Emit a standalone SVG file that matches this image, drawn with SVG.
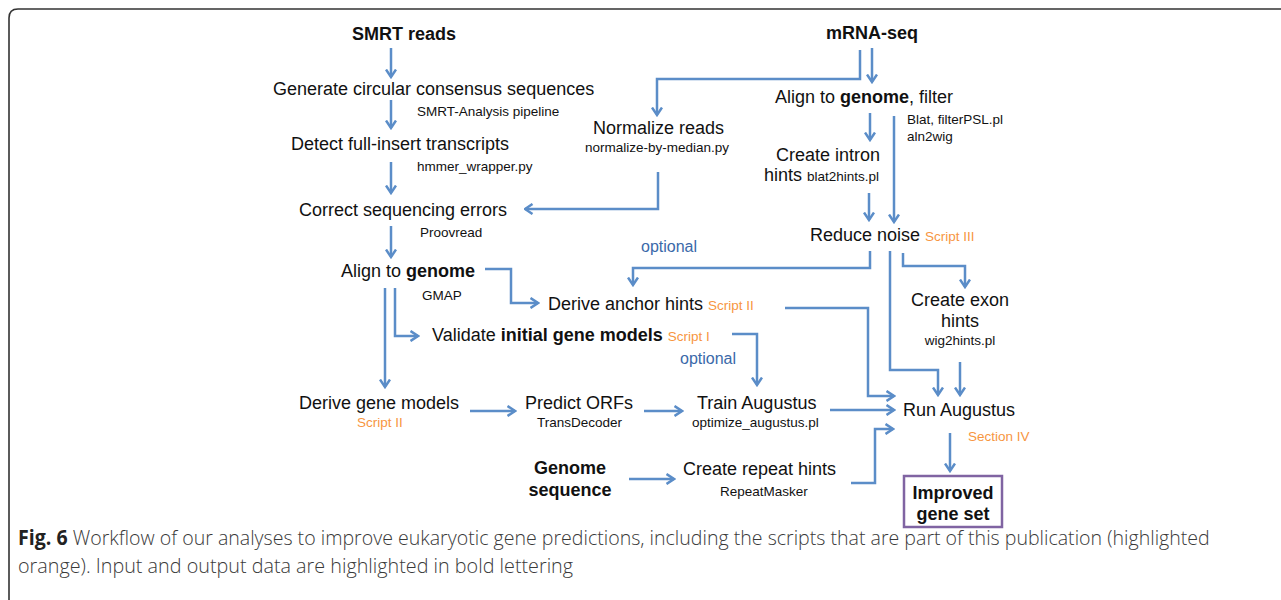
<svg xmlns="http://www.w3.org/2000/svg" width="1281" height="600" viewBox="0 0 1281 600">
  <style>
    .t { font-family: "Liberation Sans", Arial, sans-serif; font-size: 18px; fill: #111; }
    .b { font-weight: bold; }
    .s { font-family: "Liberation Sans", Arial, sans-serif; font-size: 13.5px; fill: #111; }
    .o { font-family: "Liberation Sans", Arial, sans-serif; font-size: 13.5px; fill: #F7963F; }
    .opt { font-family: "Liberation Sans", Arial, sans-serif; font-size: 16px; fill: #3B69A9; }
    .c { fill: none; stroke: #5B8DC8; stroke-width: 2.5; stroke-linejoin: miter; marker-end: url(#arr); }
    .cap { font-family: "Open Sans", "Liberation Sans", sans-serif; font-size: 21px; fill: #3a3a3a; font-weight: 300; }
  </style>
  <defs>
    <marker id="arr" markerUnits="userSpaceOnUse" viewBox="0 0 10 12" markerWidth="10" markerHeight="12" refX="8.5" refY="6" orient="auto">
      <path d="M1,1 L8.5,6 L1,11" fill="none" stroke="#5B8DC8" stroke-width="2.5"/>
    </marker>
  </defs>
  <rect width="1281" height="600" fill="#fff"/>
  <!-- outer frame -->
  <path d="M9,600 V18 Q9,9 18,9 H1281" fill="none" stroke="#333" stroke-width="1.6"/>

  <!-- connectors -->
  <g id="connectors">
    <path class="c" d="M391,48 V77"/>
    <path class="c" d="M391,100 V128"/>
    <path class="c" d="M391,162 V193"/>
    <path class="c" d="M391,226 V257"/>
    <path class="c" d="M385,288 V387"/>
    <path class="c" d="M395,288 V336 H418"/>
    <path class="c" d="M485,269 H511 V303 H538"/>
    <path class="c" d="M470,411 H515"/>
    <path class="c" d="M644,411 H682"/>
    <path class="c" d="M830,410 H894"/>
    <path class="c" d="M732,334 H757 V385"/>
    <path class="c" d="M785,308 H868 V396 H894"/>
    <path class="c" d="M860,50 V79 H657 V115"/>
    <path class="c" d="M872,48 V82"/>
    <path class="c" d="M658,172 V209 H525"/>
    <path class="c" d="M870,113 V140"/>
    <path class="c" d="M894,116 V222"/>
    <path class="c" d="M869,193 V220"/>
    <path class="c" d="M870,251 V268 H633 V285"/>
    <path class="c" d="M890,251 V370 H938 V395"/>
    <path class="c" d="M903,253 V266 H965 V287"/>
    <path class="c" d="M960,362 V395"/>
    <path class="c" d="M950,433 V471"/>
    <path class="c" d="M629,479 H674"/>
    <path class="c" d="M851,483 H875 V429 H893"/>
  </g>

  <!-- long-read branch -->
  <g id="smrt-reads"><text class="t b" x="352" y="40">SMRT reads</text></g>
  <g id="ccs">
    <text class="t" x="273" y="95">Generate circular consensus sequences</text>
    <text class="s" x="417" y="116">SMRT-Analysis pipeline</text>
  </g>
  <g id="full-insert">
    <text class="t" x="291" y="150">Detect full-insert transcripts</text>
    <text class="s" x="417" y="171">hmmer_wrapper.py</text>
  </g>
  <g id="correct">
    <text class="t" x="299" y="216">Correct sequencing errors</text>
    <text class="s" x="420" y="237">Proovread</text>
  </g>
  <g id="align-long">
    <text class="t" x="341" y="277">Align to <tspan class="b">genome</tspan></text>
    <text class="s" x="422" y="300">GMAP</text>
  </g>
  <g id="anchor-hints">
    <text class="t" x="548" y="310">Derive anchor hints <tspan class="o">Script II</tspan></text>
  </g>
  <g id="validate">
    <text class="t" x="432" y="341">Validate <tspan class="b">initial gene models</tspan> <tspan class="o">Script I</tspan></text>
  </g>
  <g id="gene-models">
    <text class="t" x="299" y="409">Derive gene models</text>
    <text class="o" x="357" y="427">Script II</text>
  </g>
  <g id="orfs">
    <text class="t" x="525" y="409">Predict ORFs</text>
    <text class="s" x="537" y="427">TransDecoder</text>
  </g>
  <g id="train">
    <text class="t" x="697" y="409">Train Augustus</text>
    <text class="s" x="692" y="427">optimize_augustus.pl</text>
  </g>
  <g id="labels-optional">
    <text class="opt" x="641" y="252">optional</text>
    <text class="opt" x="680" y="364">optional</text>
  </g>

  <!-- short-read branch -->
  <g id="mrna-seq"><text class="t b" x="826" y="39">mRNA-seq</text></g>
  <g id="normalize">
    <text class="t" x="593" y="134">Normalize reads</text>
    <text class="s" x="585" y="152">normalize-by-median.py</text>
  </g>
  <g id="align-short">
    <text class="t" x="775" y="103">Align to <tspan class="b">genome</tspan>, filter</text>
    <text class="s" x="907" y="124">Blat, filterPSL.pl</text>
    <text class="s" x="907" y="141">aln2wig</text>
  </g>
  <g id="intron-hints">
    <text class="t" x="776" y="161">Create intron</text>
    <text class="t" x="764" y="181">hints <tspan class="s">blat2hints.pl</tspan></text>
  </g>
  <g id="reduce-noise">
    <text class="t" x="810" y="241">Reduce noise <tspan class="o">Script III</tspan></text>
  </g>
  <g id="exon-hints">
    <text class="t" x="960" y="306" text-anchor="middle">Create exon</text>
    <text class="t" x="960" y="327" text-anchor="middle">hints</text>
    <text class="s" x="960" y="345" text-anchor="middle">wig2hints.pl</text>
  </g>

  <!-- genome branch and output -->
  <g id="genome-seq">
    <text class="t b" x="570" y="474" text-anchor="middle">Genome</text>
    <text class="t b" x="570" y="496" text-anchor="middle">sequence</text>
  </g>
  <g id="repeat-hints">
    <text class="t" x="683" y="475">Create repeat hints</text>
    <text class="s" x="720" y="496">RepeatMasker</text>
  </g>
  <g id="run-augustus">
    <text class="t" x="903" y="416">Run Augustus</text>
    <text class="o" x="968" y="441">Section IV</text>
  </g>
  <g id="improved">
    <rect x="904" y="476" width="98" height="51" fill="none" stroke="#8064A2" stroke-width="2.5"/>
    <text class="t b" x="953" y="499" text-anchor="middle">Improved</text>
    <text class="t b" x="953" y="520" text-anchor="middle">gene set</text>
  </g>

  <!-- caption, set in a horizontally condensed face -->
  <g id="caption" transform="scale(0.85,1)">
    <text class="cap" x="21.2" y="545" textLength="1402" lengthAdjust="spacingAndGlyphs"><tspan font-weight="bold" fill="#222">Fig. 6</tspan> Workflow of our analyses to improve eukaryotic gene predictions, including the scripts that are part of this publication (highlighted</text>
    <text class="cap" x="21.2" y="573" textLength="653" lengthAdjust="spacingAndGlyphs">orange). Input and output data are highlighted in bold lettering</text>
  </g>
</svg>
